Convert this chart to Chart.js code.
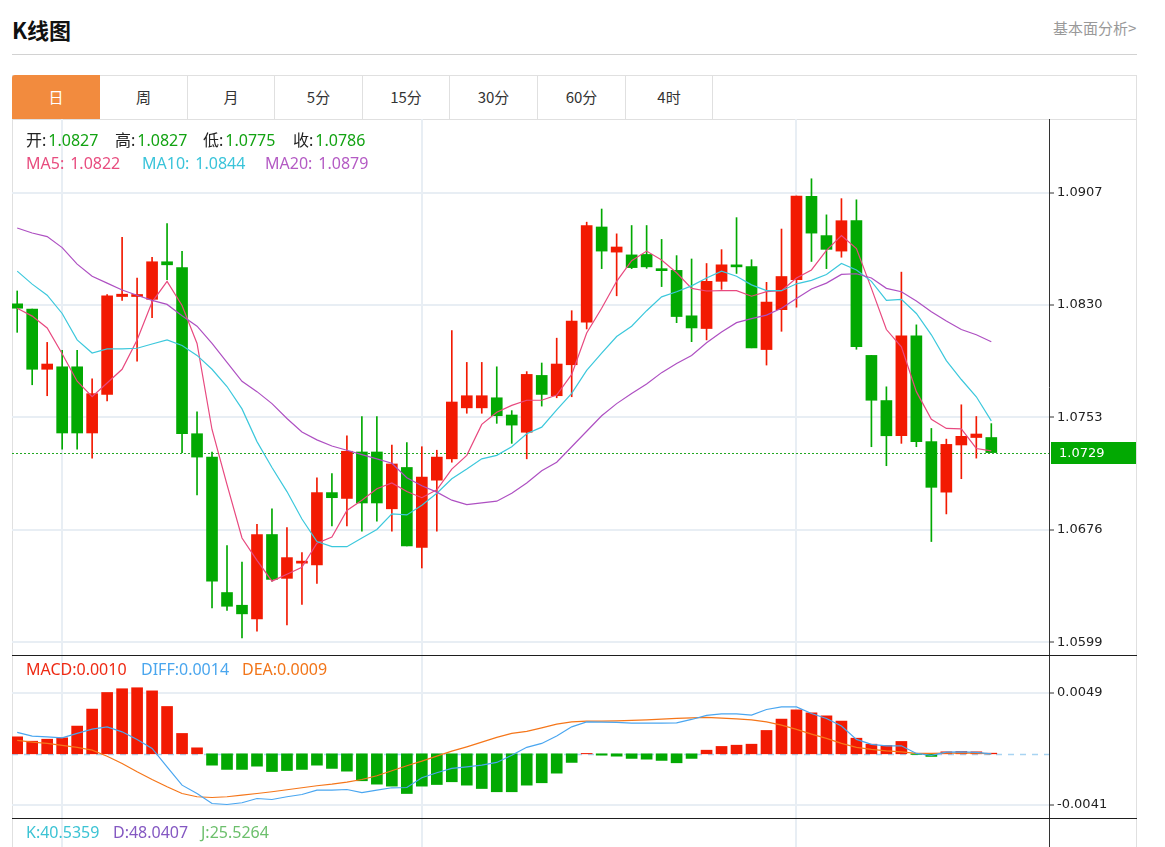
<!DOCTYPE html>
<html>
<head>
<meta charset="utf-8">
<script src="https://cdn.jsdelivr.net/npm/chart.js@4.4.0/dist/chart.umd.min.js"></script>
<style>
body{margin:0;background:#fff;font-family:"Noto Sans","Noto Sans CJK SC",sans-serif;}
#page{position:relative;width:1165px;height:847px;overflow:hidden;}
.abs{position:absolute;white-space:nowrap;}
#title{left:12px;top:12px;font:bold 22px "Noto Sans CJK SC";line-height:34px;color:#111;}
#more{left:1053px;top:18px;font:15px "Noto Sans CJK SC";line-height:20px;color:#999;}
#rule{left:12px;top:54px;width:1125px;height:1px;background:#d2d2d2;}
#box{left:12px;top:75px;width:1125px;height:800px;border:1px solid #e0e0e0;box-sizing:border-box;}
#tabrow{left:12px;top:75px;width:1125px;height:45px;border-bottom:1px solid #e0e0e0;box-sizing:border-box;}
.tab{top:75px;height:44px;font:15px "Noto Sans CJK SC";line-height:44px;text-align:center;color:#333;border-right:1px solid #e0e0e0;box-sizing:border-box;}
.tab.on{background:#f28b3e;color:#fff;border-right:none;border-top-left-radius:3px;}
.sep{left:12px;width:1125px;height:1px;background:#1e1e1e;}
canvas{position:absolute;left:12px;}
.lg{font-size:16px;line-height:20px;height:20px;}
.k{color:#222;}
.g{color:#13a313;margin-left:2px;}
.v{margin-left:6px;}
</style>
</head>
<body>
<div id="page">
  <div id="title" class="abs">K线图</div>
  <div id="more" class="abs">基本面分析&gt;</div>
  <div id="rule" class="abs"></div>
  <div id="box" class="abs"></div>
  <div id="tabrow" class="abs"></div>
  <div class="abs tab on" style="left:12px;width:88px;">日</div>
  <div class="abs tab" style="left:100px;width:88px;">周</div>
  <div class="abs tab" style="left:188px;width:87px;">月</div>
  <div class="abs tab" style="left:275px;width:88px;">5分</div>
  <div class="abs tab" style="left:363px;width:87px;">15分</div>
  <div class="abs tab" style="left:450px;width:88px;">30分</div>
  <div class="abs tab" style="left:538px;width:88px;">60分</div>
  <div class="abs tab" style="left:626px;width:87px;">4时</div>

  <canvas id="main" width="1125" height="536" style="top:119px;"></canvas>
  <canvas id="macd" width="1125" height="163" style="top:655px;"></canvas>
  <canvas id="kdj" width="1125" height="29" style="top:818px;"></canvas>
  <div class="abs sep" style="top:655px;"></div>
  <div class="abs sep" style="top:818px;"></div>

  <div class="abs lg" style="left:26px;top:130px;"><span class="k">开:</span><span class="g">1.0827</span></div>
  <div class="abs lg" style="left:115px;top:130px;"><span class="k">高:</span><span class="g">1.0827</span></div>
  <div class="abs lg" style="left:203px;top:130px;"><span class="k">低:</span><span class="g">1.0775</span></div>
  <div class="abs lg" style="left:293px;top:130px;"><span class="k">收:</span><span class="g">1.0786</span></div>
  <div class="abs lg" style="left:26px;top:153px;color:#e84d7f;">MA5:<span class="v">1.0822</span></div>
  <div class="abs lg" style="left:142px;top:153px;color:#3ac4da;">MA10:<span class="v">1.0844</span></div>
  <div class="abs lg" style="left:265px;top:153px;color:#b45bc4;">MA20:<span class="v">1.0879</span></div>
  <div class="abs lg" style="left:26px;top:659px;color:#ee2a14;">MACD:0.0010</div>
  <div class="abs lg" style="left:141px;top:659px;color:#4aa6ee;">DIFF:0.0014</div>
  <div class="abs lg" style="left:242px;top:659px;color:#f27519;">DEA:0.0009</div>
  <div class="abs lg" style="left:26px;top:822px;color:#3cc3d4;">K:40.5359</div>
  <div class="abs lg" style="left:113px;top:822px;color:#8458c2;">D:48.0407</div>
  <div class="abs lg" style="left:201px;top:822px;color:#6cbf6c;">J:25.5264</div>
</div>
<script>
// daily candles (oldest -> newest)
var opens = [1.08308,1.08272,1.07860,1.07877,1.07877,1.07424,1.07688,1.08358,1.08358,1.08339,
  1.08596,1.08556,1.07419,1.07259,1.06332,1.06245,1.06151,1.06729,1.06429,1.06533,
  1.06521,1.07016,1.06976,1.07294,1.07294,1.06905,1.07188,1.06641,1.07101,1.07247,
  1.07596,1.07596,1.07665,1.07547,1.07429,1.07818,1.07679,1.07891,1.08183,1.08834,
  1.08662,1.08643,1.08646,1.08539,1.08537,1.08226,1.08139,1.08462,1.08572,1.08563,
  1.07995,1.08268,1.08473,1.09044,1.08775,1.08669,1.08877,1.07955,1.07646,1.07405,
  1.08089,1.07365,1.07019,1.07342,1.07393,1.07393];
var highs = [1.08396,1.08272,1.08044,1.07990,1.07990,1.07794,1.08372,1.08763,1.08485,1.08627,
  1.08858,1.08667,1.07568,1.07294,1.06653,1.06540,1.06799,1.06905,1.06776,1.06605,
  1.07117,1.07146,1.07405,1.07537,1.07537,1.07341,1.07358,1.07330,1.07306,1.08125,
  1.07907,1.07907,1.07877,1.07577,1.07844,1.07903,1.08073,1.08261,1.08867,1.08957,
  1.08787,1.08844,1.08844,1.08749,1.08638,1.08615,1.08584,1.08679,1.08898,1.08610,
  1.08455,1.08820,1.09046,1.09164,1.08917,1.09028,1.09020,1.07955,1.07740,1.08525,
  1.08164,1.07455,1.07382,1.07617,1.07537,1.07488];
var lows = [1.08113,1.07754,1.07679,1.07313,1.07313,1.07252,1.07643,1.08332,1.07915,1.08214,
  1.08473,1.07290,1.07000,1.06226,1.06210,1.06021,1.06068,1.06410,1.06111,1.06250,
  1.06394,1.06788,1.06788,1.06752,1.06820,1.06752,1.06651,1.06500,1.06752,1.07224,
  1.07559,1.07559,1.07490,1.07353,1.07247,1.07608,1.07665,1.07672,1.08136,1.08549,
  1.08363,1.08549,1.08551,1.08426,1.08179,1.08049,1.08061,1.08407,1.08516,1.08007,
  1.07889,1.08120,1.08285,1.08598,1.08549,1.08627,1.07997,1.07330,1.07200,1.07353,
  1.07330,1.06681,1.06870,1.07111,1.07252,1.07290];
var closes = [1.08278,1.07860,1.07896,1.07424,1.07424,1.07693,1.08363,1.08374,1.08372,1.08596,
  1.08575,1.07419,1.07259,1.06410,1.06238,1.06186,1.06729,1.06422,1.06571,1.06547,
  1.07016,1.06981,1.07299,1.06945,1.06945,1.07212,1.06651,1.07122,1.07259,1.07636,
  1.07679,1.07679,1.07542,1.07478,1.07825,1.07688,1.07896,1.08190,1.08844,1.08669,
  1.08697,1.08556,1.08561,1.08535,1.08221,1.08143,1.08462,1.08575,1.08561,1.08007,
  1.08320,1.08495,1.09046,1.08792,1.08681,1.08877,1.08014,1.07648,1.07405,1.08089,
  1.07365,1.07052,1.07346,1.07401,1.07417,1.07290];

var ma5 = [1.08278,1.08224,1.08143,1.07966,1.07778,1.07672,1.07766,1.07860,1.08061,1.08320,
  1.08462,1.08297,1.08037,1.07448,1.07070,1.06705,1.06552,1.06410,1.06457,1.06505,
  1.06670,1.06712,1.06894,1.06964,1.07042,1.07082,1.07023,1.06981,1.07035,1.07177,
  1.07271,1.07483,1.07566,1.07613,1.07648,1.07648,1.07684,1.07825,1.08108,1.08278,
  1.08462,1.08603,1.08669,1.08608,1.08521,1.08414,1.08396,1.08398,1.08398,1.08360,
  1.08391,1.08398,1.08485,1.08540,1.08674,1.08775,1.08686,1.08414,1.08132,1.08014,
  1.07707,1.07518,1.07455,1.07452,1.07318,1.07301];
var ma10 = [1.08532,1.08443,1.08367,1.08242,1.08061,1.07971,1.08000,1.08000,1.08004,1.08033,
  1.08061,1.08023,1.07955,1.07860,1.07742,1.07589,1.07365,1.07188,1.07023,1.06835,
  1.06681,1.06646,1.06646,1.06705,1.06764,1.06870,1.06863,1.06929,1.07012,1.07111,
  1.07177,1.07247,1.07271,1.07330,1.07419,1.07464,1.07582,1.07695,1.07853,1.07971,
  1.08084,1.08155,1.08261,1.08356,1.08391,1.08431,1.08485,1.08532,1.08497,1.08438,
  1.08398,1.08398,1.08445,1.08469,1.08509,1.08584,1.08540,1.08462,1.08332,1.08339,
  1.08242,1.08096,1.07919,1.07790,1.07672,1.07507];
var ma20 = [1.08827,1.08793,1.08768,1.08693,1.08580,1.08497,1.08450,1.08403,1.08367,1.08332,
  1.08304,1.08226,1.08155,1.08037,1.07908,1.07778,1.07707,1.07625,1.07523,1.07431,
  1.07377,1.07335,1.07306,1.07276,1.07247,1.07217,1.07118,1.07063,1.07019,1.06964,
  1.06934,1.06945,1.06957,1.07012,1.07082,1.07165,1.07224,1.07330,1.07436,1.07542,
  1.07625,1.07695,1.07759,1.07837,1.07900,1.07955,1.08042,1.08115,1.08179,1.08207,
  1.08231,1.08278,1.08344,1.08410,1.08450,1.08509,1.08514,1.08485,1.08414,1.08391,
  1.08327,1.08254,1.08190,1.08132,1.08096,1.08049];

var macd = [0.00136,0.00101,0.00117,0.00128,0.00222,0.00358,0.00491,0.00521,0.00529,0.00504,
  0.00379,0.00163,0.00048,-0.00091,-0.00125,-0.00125,-0.00099,-0.00142,-0.00134,-0.00125,
  -0.00091,-0.00117,-0.00139,-0.00216,-0.00243,-0.00259,-0.00318,-0.00259,-0.00246,-0.00224,
  -0.00251,-0.00278,-0.00304,-0.00304,-0.00251,-0.00232,-0.00155,-0.00069,0.00003,-0.00011,
  -0.00019,-0.00037,-0.00043,-0.00053,-0.00072,-0.00037,0.00029,0.00059,0.00069,0.00077,
  0.00187,0.00278,0.00352,0.00328,0.00304,0.00262,0.00125,0.00077,0.00067,0.00099,
  -0.00005,-0.00021,0.00016,0.00019,0.00016,0.00005];
var diff = [0.00171,0.00142,0.00136,0.00128,0.00163,0.00198,0.00216,0.00176,0.00115,0.00043,
  -0.00104,-0.00251,-0.00318,-0.00398,-0.00406,-0.00392,-0.00358,-0.00366,-0.00344,-0.00326,
  -0.00291,-0.00291,-0.00286,-0.00310,-0.00291,-0.00272,-0.00270,-0.00192,-0.00152,-0.00117,
  -0.00104,-0.00091,-0.00069,-0.00011,0.00052,0.00083,0.00142,0.00216,0.00256,0.00254,
  0.00251,0.00246,0.00246,0.00246,0.00248,0.00275,0.00307,0.00320,0.00320,0.00310,
  0.00355,0.00376,0.00376,0.00323,0.00283,0.00222,0.00115,0.00075,0.00064,0.00064,
  0.00003,-0.00013,0.00013,0.00016,0.00011,0.00000];
var dea = [0.00107,0.00094,0.00083,0.00067,0.00051,0.00029,-0.00019,-0.00077,-0.00144,-0.00206,
  -0.00264,-0.00318,-0.00344,-0.00350,-0.00344,-0.00331,-0.00318,-0.00304,-0.00288,-0.00272,
  -0.00256,-0.00243,-0.00227,-0.00206,-0.00176,-0.00136,-0.00096,-0.00059,-0.00019,0.00021,
  0.00056,0.00093,0.00131,0.00163,0.00180,0.00208,0.00238,0.00256,0.00262,0.00262,
  0.00264,0.00267,0.00272,0.00278,0.00283,0.00288,0.00291,0.00286,0.00280,0.00272,
  0.00256,0.00230,0.00195,0.00158,0.00123,0.00083,0.00051,0.00035,0.00024,0.00016,
  0.00003,0.00003,0.00005,0.00008,0.00005,0.00000];

var priceTicks = [1.0599, 1.0676, 1.0753, 1.0830, 1.0907];
var macdTicks = [-0.0041, 0.0049];
var monthStarts = [3, 27, 52]; // candle index of the vertical grid lines

var RED = '#f21a02', GREEN = '#02a902', GRID = '#e8eef4';

function xy(arr) { return arr.map(function(v, i){ return {x: i, y: v}; }); }
function upDown(i) { return closes[i] >= opens[i] ? RED : GREEN; }

function xScale() {
  return {
    type: 'linear', min: -0.347, max: 68.85, offset: false,
    grid: {offset: false, color: GRID, lineWidth: 2, drawTicks: false},
    border: {display: false},
    ticks: {display: false},
    afterBuildTicks: function(s){ s.ticks = monthStarts.map(function(v){ return {value: v}; }); },
    afterFit: function(s){ s.height = 0; }
  };
}
function yScale(min, max, ticks) {
  return {
    type: 'linear', position: 'right', min: min, max: max,
    grid: {color: GRID, lineWidth: 2, tickLength: 5, tickColor: '#333', tickWidth: 1},
    border: {color: '#333', width: 1},
    ticks: {color: '#222', padding: 3, font: {family: 'DejaVu Sans', size: 13},
            callback: function(v){ return v.toFixed(4); }},
    afterBuildTicks: function(s){ s.ticks = ticks.map(function(v){ return {value: v}; }); },
    afterFit: function(s){ s.width = 88; s.paddingTop = 0; s.paddingBottom = 0; }
  };
}
function line(data, color, order) {
  return {type: 'line', data: xy(data), borderColor: color, borderWidth: 1.2,
          pointRadius: 0, tension: 0, fill: false, order: order};
}
var common = {
  responsive: false, animation: false, events: [],
  layout: {padding: 0},
  plugins: {legend: {display: false}, tooltip: {enabled: false}}
};

// last price dotted line + green label
var lastPrice = {
  id: 'lastPrice',
  beforeDatasetsDraw: function(chart) {
    var a = chart.chartArea, ctx = chart.ctx;
    var py = Math.round(chart.scales.y.getPixelForValue(closes[closes.length - 1])) + 0.5;
    ctx.save();
    ctx.strokeStyle = '#22a822'; ctx.lineWidth = 1; ctx.setLineDash([2, 2]);
    ctx.beginPath(); ctx.moveTo(a.left, py); ctx.lineTo(a.right, py); ctx.stroke();
    ctx.restore();
  },
  afterDraw: function(chart) {
    var a = chart.chartArea, ctx = chart.ctx;
    var v = closes[closes.length - 1];
    var py = Math.round(chart.scales.y.getPixelForValue(v));
    ctx.save();
    ctx.fillStyle = '#02a902';
    ctx.fillRect(a.right + 2, py - 11, chart.width - a.right - 3, 22);
    ctx.fillStyle = '#fff'; ctx.font = '13px "DejaVu Sans"'; ctx.textBaseline = 'middle';
    ctx.fillText(v.toFixed(4), a.right + 10, py + 1);
    ctx.restore();
  }
};

new Chart(document.getElementById('main'), {
  type: 'bar',
  data: {
    datasets: [
      {data: lows.map(function(l, i){ return {x: i, y: [l, highs[i]]}; }),
       backgroundColor: opens.map(function(o, i){ return upDown(i); }),
       barThickness: 1, grouped: false, order: 3},
      {data: opens.map(function(o, i){ return {x: i, y: [o, closes[i]]}; }),
       backgroundColor: opens.map(function(o, i){ return upDown(i); }),
       barThickness: 11, minBarLength: 2, grouped: false, order: 2},
      line(ma20, '#ae50c2', 1),
      line(ma10, '#3cc8dc', 1),
      line(ma5, '#e8497f', 1)
    ]
  },
  options: Object.assign({}, common, {
    scales: {x: xScale(), y: yScale(1.059044, 1.095731, priceTicks)}
  }),
  plugins: [lastPrice]
});

var zeroLine = {
  id: 'zeroLine',
  beforeDatasetsDraw: function(chart) {
    var a = chart.chartArea, ctx = chart.ctx;
    var py = Math.round(chart.scales.y.getPixelForValue(0)) + 0.5;
    ctx.save();
    ctx.strokeStyle = '#a8d4f2'; ctx.lineWidth = 1.5; ctx.setLineDash([6, 6]);
    ctx.beginPath(); ctx.moveTo(a.left, py); ctx.lineTo(a.right, py); ctx.stroke();
    ctx.restore();
  }
};

new Chart(document.getElementById('macd'), {
  type: 'bar',
  data: {
    datasets: [
      {data: xy(macd), backgroundColor: macd.map(function(v){ return v >= 0 ? RED : GREEN; }),
       barThickness: 11, grouped: false, order: 2},
      line(diff, '#4aa6f0', 1),
      line(dea, '#f5761a', 1)
    ]
  },
  options: Object.assign({}, common, {
    scales: {x: xScale(), y: yScale(-0.00514, 0.007911, macdTicks)}
  }),
  plugins: [zeroLine]
});

// KDJ strip: only the header values are visible in the picture
var kdjY = yScale(0, 100, []);
kdjY.grid = {drawOnChartArea: false, drawTicks: false};
kdjY.ticks = {display: false};
new Chart(document.getElementById('kdj'), {
  type: 'line',
  data: {datasets: []},
  options: Object.assign({}, common, {scales: {x: xScale(), y: kdjY}})
});
</script>
</body>
</html>
